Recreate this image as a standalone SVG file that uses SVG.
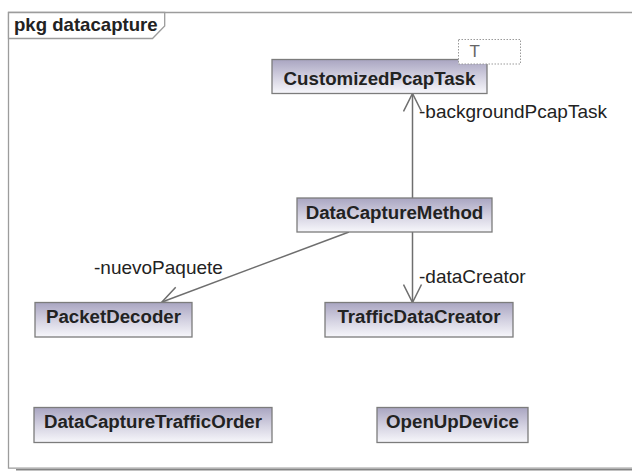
<svg xmlns="http://www.w3.org/2000/svg" width="632" height="471" viewBox="0 0 632 471">
  <defs>
    <linearGradient id="classFill" x1="0" y1="0" x2="0" y2="1">
      <stop offset="0" stop-color="#a9a5c1"/>
      <stop offset="0.55" stop-color="#d6d4e3"/>
      <stop offset="1" stop-color="#f7f7fb"/>
    </linearGradient>
    <marker id="openArrow" viewBox="0 0 20 20" refX="19" refY="10" markerWidth="20" markerHeight="20" markerUnits="userSpaceOnUse" orient="auto">
      <path d="M1,1 L19,10 L1,19" fill="none" stroke="#6e6e6e" stroke-width="1.5"/>
    </marker>
  </defs>
  <style>
    .frame { fill: #ffffff; stroke: #9c9c9c; stroke-width: 1.3; }
    .cls rect { fill: url(#classFill); stroke: #7c7c7c; stroke-width: 1.3; }
    .cls text { font-family: "Liberation Sans", Arial, sans-serif; font-weight: bold; font-size: 18.7px; fill: #222222; text-anchor: middle; }
    .assoc { fill: none; stroke: #6e6e6e; stroke-width: 1.5; marker-end: url(#openArrow); }
    .role { font-family: "Liberation Sans", Arial, sans-serif; font-size: 19px; fill: #222222; }
    .title { font-family: "Liberation Sans", Arial, sans-serif; font-weight: bold; font-size: 18.6px; fill: #222222; }
  </style>

  <rect width="632" height="471" fill="#ffffff"/>

  <!-- package frame -->
  <g id="frame">
    <line x1="16" y1="469.8" x2="632" y2="469.8" stroke="#858585" stroke-width="1.6"/>
    <path class="frame" d="M632,12.5 H8.5 V468.2 H632"/>
    <path d="M8.5,12.5 H164.7 V26 L152.5,38.5 H8.5 Z" fill="#ffffff" stroke="#9c9c9c" stroke-width="1.3"/>
    <text class="title" x="14" y="31">pkg datacapture</text>
  </g>

  <!-- associations -->
  <g id="connectors">
    <line class="assoc" x1="412.5" y1="198" x2="412.5" y2="93.5"/>
    <text class="role" x="419" y="118">-backgroundPcapTask</text>
    <line class="assoc" x1="412.5" y1="232" x2="412.5" y2="302.5"/>
    <text class="role" x="419" y="283">-dataCreator</text>
    <line class="assoc" x1="349" y1="232" x2="162" y2="302"/>
    <text class="role" x="94" y="274">-nuevoPaquete</text>
  </g>

  <!-- classes -->
  <g id="CustomizedPcapTask" class="cls">
    <rect x="272" y="59.5" width="215" height="34"/>
    <text x="379.5" y="85">CustomizedPcapTask</text>
  </g>
  <g id="CustomizedPcapTask-template">
    <rect x="458.5" y="39.5" width="62" height="24.5" fill="#ffffff" stroke="#9a9a9a" stroke-width="1" stroke-dasharray="1.5 1.5"/>
    <text x="469.5" y="57" font-family="'Liberation Sans', Arial, sans-serif" font-size="17" fill="#666666">T</text>
  </g>
  <g id="DataCaptureMethod" class="cls">
    <rect x="297" y="198" width="195" height="34"/>
    <text x="394.5" y="219">DataCaptureMethod</text>
  </g>
  <g id="PacketDecoder" class="cls">
    <rect x="35" y="302.5" width="157" height="34.5"/>
    <text x="113.5" y="323">PacketDecoder</text>
  </g>
  <g id="TrafficDataCreator" class="cls">
    <rect x="325" y="302.5" width="188" height="34.5"/>
    <text x="419" y="323">TrafficDataCreator</text>
  </g>
  <g id="DataCaptureTrafficOrder" class="cls">
    <rect x="34" y="407.5" width="238" height="35"/>
    <text x="153" y="428">DataCaptureTrafficOrder</text>
  </g>
  <g id="OpenUpDevice" class="cls">
    <rect x="377" y="407.5" width="151" height="35"/>
    <text x="452.5" y="428">OpenUpDevice</text>
  </g>
</svg>
